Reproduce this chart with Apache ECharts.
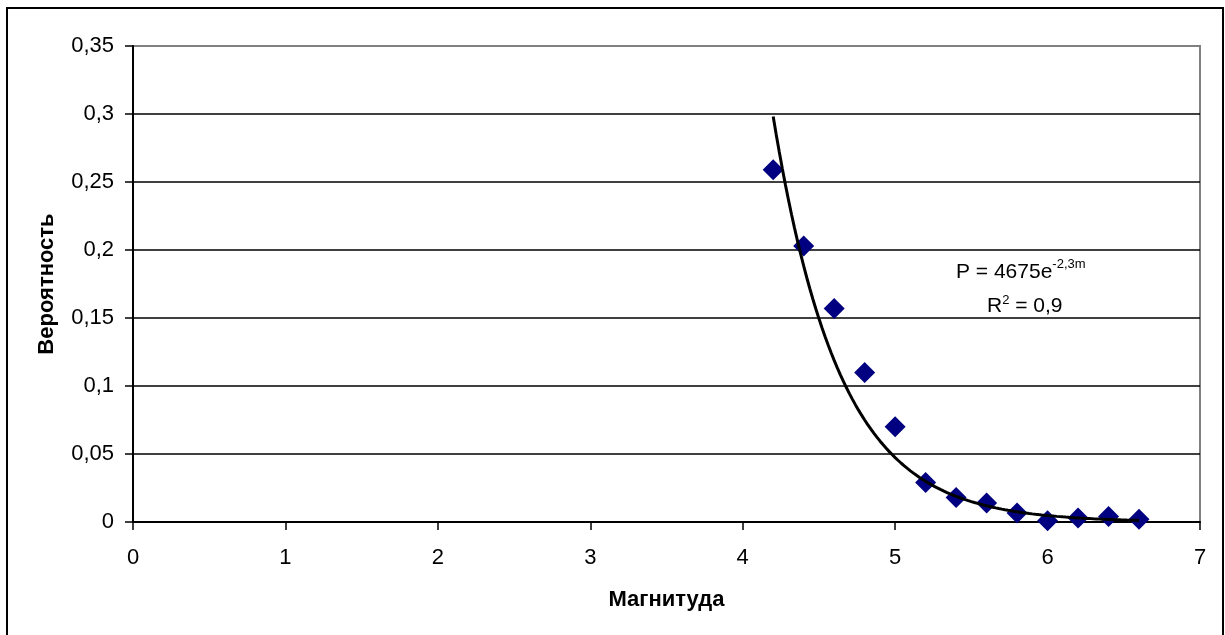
<!DOCTYPE html>
<html>
<head>
<meta charset="utf-8">
<script src="https://cdn.jsdelivr.net/npm/echarts@6/dist/echarts.min.js"></script>
<style>
  html, body { margin: 0; padding: 0; background: #fff; }
  #chart { width: 1225px; height: 635px; }
</style>
</head>
<body>
<div id="chart"></div>
<script>
// Observed earthquake probabilities by magnitude
const magnitudes = [4.2, 4.4, 4.6, 4.8, 5.0, 5.2, 5.4, 5.6, 5.8, 6.0, 6.2, 6.4, 6.6];
const probabilities = [0.259, 0.203, 0.157, 0.110, 0.070, 0.029, 0.018, 0.014, 0.0066, 0.001, 0.003, 0.004, 0.002];

// Exponential trend P = A * e^(k*m), coefficients as shown in the equation label
const trendA = 4675;
const trendK = -2.3;
const trendR2 = 0.9;

const yTicks = [0, 0.05, 0.1, 0.15, 0.2, 0.25, 0.3, 0.35];
const xTicks = [0, 1, 2, 3, 4, 5, 6, 7];

const comma = v => String(v).replace('.', ',');

// Trend curve sampled along the fitted range of magnitudes
const trendData = [];
const mStart = magnitudes[0], mEnd = magnitudes[magnitudes.length - 1];
const steps = 120;
for (let i = 0; i <= steps; i++) {
  const m = mStart + (mEnd - mStart) * i / steps;
  trendData.push([m, trendA * Math.exp(trendK * m)]);
}

const chart = echarts.init(document.getElementById('chart'), null, { renderer: 'canvas' });
const font = '"Liberation Sans", Arial, sans-serif';
const fs = 22;

chart.setOption({
  animation: false,
  backgroundColor: '#fff',
  textStyle: { fontFamily: font },
  grid: {
    left: 133, top: 46, right: 25, bottom: 113,
    show: true, borderColor: '#808080', borderWidth: 2, backgroundColor: 'transparent'
  },
  xAxis: {
    type: 'value', min: xTicks[0], max: xTicks[xTicks.length - 1], interval: 1,
    name: 'Магнитуда', nameLocation: 'middle', nameGap: 67,
    nameTextStyle: { fontFamily: font, fontWeight: 'bold', fontSize: fs, color: '#000' },
    axisLine: { show: true, onZero: false, lineStyle: { color: '#000', width: 2 } },
    axisTick: { show: true, length: 8, inside: false, lineStyle: { color: '#000', width: 1.5 } },
    axisLabel: { fontFamily: font, fontSize: fs, color: '#000', margin: 25, formatter: v => comma(v) },
    splitLine: { show: false }
  },
  yAxis: {
    type: 'value', min: yTicks[0], max: yTicks[yTicks.length - 1], interval: 0.05,
    name: 'Вероятность', nameLocation: 'middle', nameGap: 75, nameRotate: 90,
    nameTextStyle: { fontFamily: font, fontWeight: 'bold', fontSize: fs, color: '#000' },
    axisLine: { show: true, onZero: false, lineStyle: { color: '#000', width: 2 } },
    axisTick: { show: true, length: 8, inside: false, lineStyle: { color: '#000', width: 1.5 } },
    axisLabel: { fontFamily: font, fontSize: fs, color: '#000', margin: 19, formatter: v => comma(+v.toFixed(2)) },
    splitLine: { show: true, showMaxLine: false, lineStyle: { color: '#000', width: 1.5 } }
  },
  series: [
    {
      type: 'scatter',
      data: magnitudes.map((m, i) => [m, probabilities[i]]),
      symbol: 'diamond',
      symbolSize: 21,
      itemStyle: { color: '#000080', opacity: 1 },
      z: 3
    },
    {
      type: 'line',
      data: trendData,
      showSymbol: false,
      symbol: 'none',
      smooth: false,
      lineStyle: { color: '#000', width: 3 },
      z: 4
    }
  ],
  graphic: [
    {
      type: 'rect',
      shape: { x: 7, y: 8, width: 1216, height: 640 },
      style: { fill: 'none', stroke: '#000', lineWidth: 2 },
      silent: true
    },
    {
      type: 'text',
      left: 956, top: 258,
      style: {
        text: '{b|P = ' + trendA + 'e}{s|' + comma(trendK) + 'm}',
        rich: {
          b: { fontFamily: font, fontSize: 21, fill: '#000', verticalAlign: 'bottom' },
          s: { fontFamily: font, fontSize: 13, fill: '#000', padding: [0, 0, 12, 0] }
        }
      }
    },
    {
      type: 'text',
      left: 987, top: 294,
      style: {
        text: '{b|R}{s|2}{b| = ' + comma(trendR2) + '}',
        rich: {
          b: { fontFamily: font, fontSize: 21, fill: '#000' },
          s: { fontFamily: font, fontSize: 13, fill: '#000', padding: [0, 0, 12, 0] }
        }
      }
    }
  ]
});
</script>
</body>
</html>
